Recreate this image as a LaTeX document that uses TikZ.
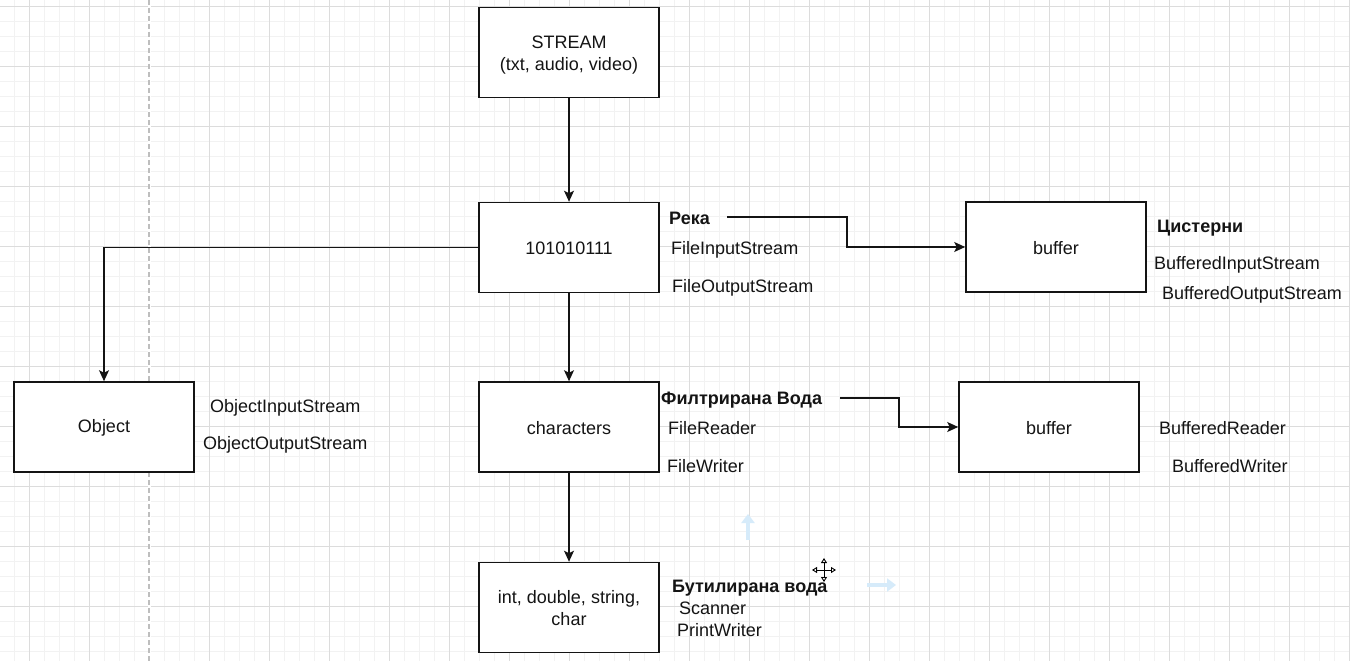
\documentclass[tikz,border=0pt]{standalone}
\usepackage{fontspec}
\setmainfont{Liberation Sans}
\usetikzlibrary{arrows.meta,calc}
\definecolor{gridminor}{RGB}{242,242,242}
\definecolor{gridmajor}{RGB}{220,220,220}
\definecolor{dashgray}{RGB}{190,190,190}
\definecolor{hintblue}{RGB}{214,235,250}
\definecolor{ink}{RGB}{20,20,20}
\tikzset{
  box/.style={draw=ink, line width=1.6pt, minimum width=180pt, minimum height=90pt, inner sep=0pt,
              align=center, font=\fontsize{18}{22}\selectfont, text=ink},
  lbl/.style={anchor=base west, inner sep=0pt, font=\fontsize{18}{21.5}\selectfont, text=ink},
  blbl/.style={lbl, font=\fontsize{18}{21.5}\selectfont\bfseries},
  conn/.style={draw=ink, line width=1.5pt, -{Stealth[length=11pt,width=10pt,inset=2.5pt]}},
}
\begin{document}
\begin{tikzpicture}[x=1pt,y=-1pt]
\useasboundingbox (0,0) rectangle (1350,661);
\fill[white] (0,0) rectangle (1350,661);
% grid
\foreach \i in {0,...,90} {\draw[gridminor, line width=0.8pt] (14.3+15*\i,0) -- (14.3+15*\i,661);}
\foreach \j in {0,...,44} {\draw[gridminor, line width=0.8pt] (0,6+15*\j) -- (1350,6+15*\j);}
\foreach \i in {0,...,22} {\draw[gridmajor, line width=0.9pt] (29.3+60*\i,0) -- (29.3+60*\i,661);}
\foreach \j in {0,...,11} {\draw[gridmajor, line width=0.9pt] (0,6+60*\j) -- (1350,6+60*\j);}
\fill[white] (147.5,0) rectangle (150.5,661);
\draw[dashgray, line width=1.2pt, dash pattern=on 5pt off 3pt] (149,0) -- (149,661);

% boxes
\node[box, fill=white] (stream) at (569,52.5) {\rule{0pt}{17pt}STREAM\\(txt, audio, video)};
\node[box, fill=white] (bits) at (569,247.5) {\rule{0pt}{15pt}101010111};
\node[box, fill=white] (obj) at (104,427) {\rule{0pt}{15pt}Object};
\node[box, fill=white] (chars) at (569,427) {\rule{0pt}{15pt}characters};
\node[box, fill=white] (prim) at (569,607.5) {\rule{0pt}{15pt}int, double, string,\\char};
\node[box, fill=white] (buf1) at (1056,247) {\rule{0pt}{15pt}buffer};
\node[box, fill=white] (buf2) at (1049,427) {\rule{0pt}{15pt}buffer};

% labels
\node[blbl] (reka) at (669,224.5) {Река};
\node[lbl] (fis) at (671,254.5) {FileInputStream};
\node[lbl] (fos) at (672,292.5) {FileOutputStream};
\node[blbl] (cist) at (1157,232.5) {Цистерни};
\node[lbl] (bis) at (1154,269.5) {BufferedInputStream};
\node[lbl] (bos) at (1162,299.5) {BufferedOutputStream};
\node[lbl] (ois) at (210,412.5) {ObjectInputStream};
\node[lbl] (oos) at (203,449.5) {ObjectOutputStream};
\node[blbl] (filt) at (661,404.5) {Филтрирана Вода};
\node[lbl] (fr) at (668,434.5) {FileReader};
\node[lbl] (fw) at (667,472.5) {FileWriter};
\node[lbl] (br) at (1159,434.5) {BufferedReader};
\node[lbl] (bw) at (1172,472.5) {BufferedWriter};
\node[blbl] (but) at (672,592.5) {Бутилирана вода};
\node[lbl] (scan) at (679,614.5) {Scanner};
\node[lbl] (pw) at (677,636.5) {PrintWriter};

% connector helper points
\coordinate (r1) at (727,217);
\coordinate (rmid) at (847,217);
\coordinate (f1) at (840,398);
\coordinate (fmid) at (899,398);

% connectors
\draw[conn] (stream.south) -- (bits.north);
\draw[conn] (bits.west) -| (obj.north);
\draw[conn] (bits.south) -- (chars.north);
\draw[conn] (chars.south) -- (prim.north);
\draw[conn] (r1) -- (rmid) |- (buf1.west);
\draw[conn] (f1) -- (fmid) |- (buf2.west);

% faint hover hints
\coordinate (hu1) at (748,540);
\coordinate (hu2) at (748,514);
\coordinate (hr1) at (867,585);
\coordinate (hr2) at (896,585);
\draw[hintblue, line width=4pt, -{Triangle[length=9pt,width=13pt]}] (hu1) -- (hu2);
\draw[hintblue, line width=4pt, -{Triangle[length=9pt,width=13pt]}] (hr1) -- (hr2);

% move cursor
\coordinate (cc) at (824,570);
\draw[black, line width=0.9pt, {Triangle[open,length=5pt,width=6pt]}-{Triangle[open,length=5pt,width=6pt]}] ($(cc)+(-12,0)$) -- ($(cc)+(12,0)$);
\draw[black, line width=0.9pt, {Triangle[open,length=5pt,width=6pt]}-{Triangle[open,length=5pt,width=6pt]}] ($(cc)+(0,-12)$) -- ($(cc)+(0,12)$);
\end{tikzpicture}
\end{document}
